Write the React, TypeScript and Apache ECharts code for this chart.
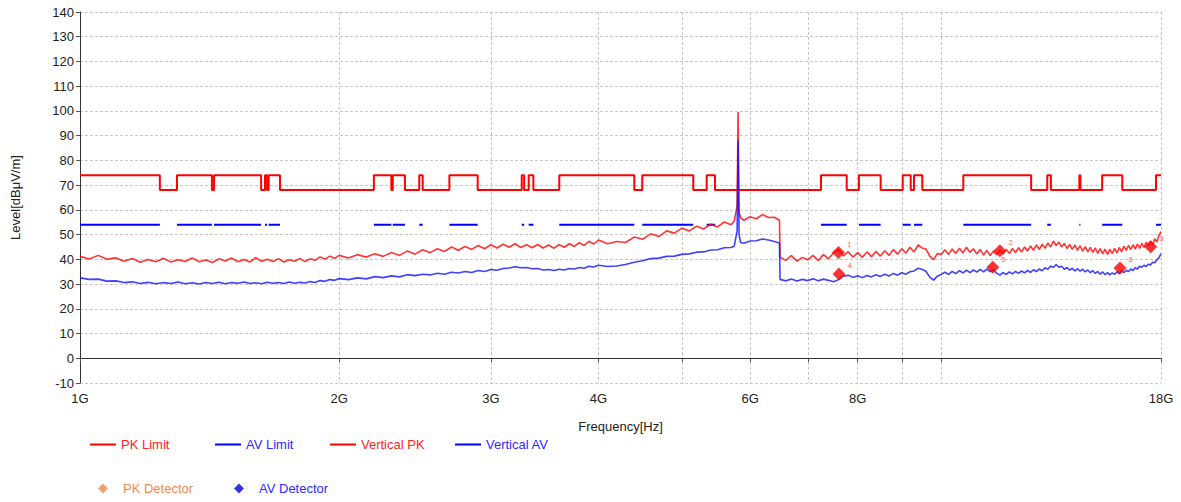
import React, { useEffect, useRef } from "react";
import * as echarts from "echarts";

// ---- scan frequencies (GHz) ----
const freqGHz = [
  1, 1.025, 1.05, 1.075, 1.1, 1.125, 1.15, 1.175, 1.2, 1.225,
  1.25, 1.275, 1.3, 1.325, 1.35, 1.375, 1.4, 1.425, 1.45, 1.475,
  1.5, 1.525, 1.55, 1.575, 1.6, 1.625, 1.65, 1.675, 1.7, 1.725,
  1.75, 1.775, 1.8, 1.825, 1.85, 1.875, 1.9, 1.925, 1.95, 1.975,
  2, 2.05, 2.1, 2.15, 2.2, 2.25, 2.3, 2.35, 2.4, 2.45,
  2.5, 2.55, 2.6, 2.65, 2.7, 2.75, 2.8, 2.85, 2.9, 2.95,
  3, 3.05, 3.1, 3.15, 3.2, 3.25, 3.3, 3.35, 3.4, 3.45,
  3.5, 3.55, 3.6, 3.65, 3.7, 3.75, 3.8, 3.85, 3.9, 3.95,
  4, 4.1, 4.2, 4.3, 4.4, 4.5, 4.6, 4.7, 4.8, 4.9,
  5, 5.1, 5.2, 5.3, 5.4, 5.5, 5.6, 5.7, 5.75, 5.795,
  5.81, 5.825, 5.85, 5.9, 6, 6.1, 6.2, 6.3, 6.4, 6.49,
  6.5, 6.6, 6.7, 6.8, 6.9, 7, 7.1, 7.2, 7.3, 7.4,
  7.5, 7.6, 7.7, 7.8, 7.9, 8, 8.1, 8.2, 8.3, 8.4,
  8.5, 8.6, 8.7, 8.8, 8.9, 9, 9.1, 9.2, 9.3, 9.4,
  9.5, 9.6, 9.7, 9.8, 9.9, 10, 10.1, 10.2, 10.3, 10.4,
  10.5, 10.6, 10.7, 10.8, 10.9, 11, 11.1, 11.2, 11.3, 11.4,
  11.5, 11.6, 11.7, 11.8, 11.9, 12, 12.1, 12.2, 12.3, 12.4,
  12.5, 12.6, 12.7, 12.8, 12.9, 13, 13.1, 13.2, 13.3, 13.4,
  13.5, 13.6, 13.7, 13.8, 13.9, 14, 14.1, 14.2, 14.3, 14.4,
  14.5, 14.6, 14.7, 14.8, 14.9, 15, 15.1, 15.2, 15.3, 15.4,
  15.5, 15.6, 15.7, 15.8, 15.9, 16, 16.1, 16.2, 16.3, 16.4,
  16.5, 16.6, 16.7, 16.8, 16.9, 17, 17.1, 17.2, 17.3, 17.4,
  17.5, 17.6, 17.7, 17.8, 17.9, 18,
];

// ---- Vertical PK trace (dBµV/m) ----
const verticalPK = [
  41.2, 40.1, 41.6, 40.0, 40.6, 39.2, 40.3, 38.8, 39.9, 39.0,
  40.4, 38.9, 39.8, 39.1, 40.6, 39.0, 39.7, 38.7, 40.2, 39.3,
  40.5, 39.0, 39.9, 38.9, 40.7, 39.2, 40.0, 39.1, 40.3, 38.9,
  39.8, 39.2, 40.4, 39.1, 40.2, 39.6, 41.0, 40.1, 41.3, 40.4,
  41.6, 40.5, 41.9, 40.9, 42.3, 41.2, 42.8, 41.6, 43.4, 42.1,
  43.9, 42.7, 44.3, 43.2, 45.0, 43.7, 45.2, 44.0, 45.6, 44.3,
  45.9, 44.6, 46.1, 44.9, 46.3, 44.8, 45.9, 44.7, 46.0, 44.6,
  45.8, 44.5, 45.9, 44.9, 46.3, 45.2, 46.7, 45.6, 47.3, 46.2,
  47.8, 46.3, 47.2, 46.8, 49.0, 48.1, 50.3, 49.2, 51.5, 50.6,
  52.6, 51.5, 53.4, 52.3, 54.2, 53.1, 55.1, 54.0, 55.4, 61.5,
  99.6, 59.0, 56.8, 55.8, 57.2, 56.4, 58.1, 56.9, 57.0, 55.8,
  40.9, 39.6, 41.5, 39.3, 40.8, 39.8, 41.6, 39.5, 41.9, 40.2,
  42.6, 43.9, 41.4, 43.1, 40.9, 42.7, 40.8, 43.0, 41.1, 43.2,
  41.3, 43.5, 41.6, 44.0, 42.1, 44.3, 42.5, 44.9, 43.0, 45.8,
  44.6, 44.2, 41.3, 39.9, 42.4, 41.9, 43.9, 42.0, 44.2, 42.4,
  44.5, 42.6, 44.9, 42.8, 44.3, 42.2, 44.0, 41.7, 43.6, 41.5,
  43.4, 41.9, 43.8, 42.1, 44.1, 42.3, 44.4, 42.7, 44.7, 43.0,
  45.0, 43.4, 45.4, 43.6, 45.8, 44.0, 46.1, 44.5, 46.6, 45.0,
  47.4, 45.6, 47.0, 45.0, 46.4, 44.4, 46.0, 44.0, 45.8, 43.6,
  45.5, 43.3, 45.1, 43.0, 44.8, 42.8, 44.6, 42.4, 44.3, 42.2,
  44.1, 42.0, 44.0, 42.3, 44.4, 42.6, 44.8, 43.0, 45.3, 43.6,
  45.6, 43.9, 45.9, 44.2, 46.2, 44.4, 46.5, 44.8, 46.9, 45.3,
  47.2, 45.9, 48.3, 47.0, 49.6, 51.2,
];

// ---- Vertical AV trace (dBµV/m) ----
const verticalAV = [
  32.5, 31.9, 32.0, 31.2, 31.3, 30.6, 30.9, 30.2, 30.7, 30.1,
  30.6, 30.2, 30.8, 30.1, 30.5, 30.0, 30.6, 30.2, 30.7, 30.1,
  30.6, 30.3, 30.8, 30.2, 30.5, 30.1, 30.7, 30.3, 30.6, 30.2,
  30.8, 30.3, 30.7, 30.4, 31.0, 30.6, 31.4, 31.1, 31.8, 31.5,
  32.2, 31.8, 32.5, 32.1, 33.0, 32.6, 33.3, 32.9, 33.8, 33.4,
  34.0, 33.7, 34.4, 34.0, 34.8, 34.5, 35.1, 34.7, 35.5, 35.1,
  35.9, 35.6, 36.3, 36.5, 37.0, 36.6, 36.7, 36.2, 36.3, 35.7,
  35.9, 35.5, 36.0, 35.7, 36.3, 36.1, 36.7, 36.4, 37.2, 36.9,
  37.6, 37.1, 37.3, 37.9, 38.8, 39.4, 40.3, 40.5, 41.2, 41.3,
  42.0, 42.2, 42.9, 43.0, 43.8, 43.9, 44.7, 44.8, 45.3, 51.5,
  88.0, 50.0, 46.8, 46.5, 47.4, 47.5, 48.2, 47.8, 47.2, 46.6,
  31.9, 31.3, 32.0, 31.2, 31.9, 31.4, 32.1, 31.3, 32.0, 31.5,
  30.9, 31.8, 33.2, 33.6, 32.7, 33.4, 32.6, 33.5, 32.9, 33.8,
  33.1, 34.0, 33.3, 34.3, 33.6, 34.6, 34.0, 35.0, 35.3, 36.4,
  36.0, 35.2, 32.8, 31.6, 33.2, 33.9, 34.8, 33.9, 35.1, 34.2,
  35.4, 34.5, 35.6, 34.6, 35.7, 34.8, 35.9, 34.9, 36.0, 35.0,
  35.8, 34.4, 33.6, 34.6, 33.9, 34.9, 34.1, 35.1, 34.3, 35.3,
  34.5, 35.5, 34.7, 35.8, 35.0, 36.1, 35.4, 36.6, 36.0, 37.3,
  36.7, 37.9, 36.8, 37.2, 36.0, 36.7, 35.6, 36.4, 35.3, 36.2,
  35.2, 36.0, 34.9, 35.7, 34.6, 35.4, 34.3, 35.1, 34.0, 34.9,
  33.8, 34.6, 33.7, 34.5, 33.9, 35.0, 34.2, 35.4, 34.6, 35.6,
  35.0, 36.1, 35.5, 36.6, 36.1, 37.2, 36.8, 37.6, 37.1, 38.0,
  37.7, 38.8, 38.6, 39.8, 40.6, 42.3,
];

// ---- limit band edges (GHz) and levels per band ----
const limitEdgesGHz = [
  1.0, 1.238, 1.296, 1.423, 1.431, 1.623, 1.64, 1.649, 1.656, 1.707,
  2.194, 2.299, 2.308, 2.384, 2.477, 2.5, 2.685, 2.896, 3.258, 3.279,
  3.319, 3.361, 3.602, 4.402, 4.497, 5.154, 5.342, 5.462, 7.252, 7.768,
  8.026, 8.506, 9.023, 9.218, 9.299, 9.508, 10.61, 12.72, 13.28, 13.41,
  14.47, 14.51, 15.38, 16.23, 17.76, 18.0,
];
const pkLimitLevels = [
  74, 68, 74, 68, 74, 68, 74, 68, 74, 68,
  74, 68, 74, 68, 74, 68, 74, 68, 74, 68,
  74, 68, 74, 68, 74, 68, 74, 68, 74, 68,
  74, 68, 74, 68, 74, 68, 74, 68, 74, 68,
  74, 68, 74, 68, 74,
];
const avLimitLevels = [
  54, null, 54, null, 54, null, 54, null, 54, null,
  54, null, 54, null, 54, null, 54, null, 54, null,
  54, null, 54, null, 54, null, 54, null, 54, null,
  54, null, 54, null, 54, null, 54, null, 54, null,
  54, null, 54, null, 54,
];

// ---- detector points ----
const pkDetectorFreqGHz = [7.598, 11.7, 17.51];
const pkDetectorLevel = [42.8, 43.5, 45.1];
const pkDetectorTag = ["1", "2", "3"];
const avDetectorFreqGHz = [7.609, 11.48, 16.13];
const avDetectorLevel = [34.1, 36.8, 36.5];
const avDetectorTag = ["4", "5", "6"];

// ---- axis ticks ----
const xTickGHz = [1, 2, 3, 4, 5, 6, 7, 8, 9, 10, 18];
const xLabelGHz = [1, 2, 3, 4, 6, 8, 18];

const lg = (f: number) => Math.log10(f);

const FONT = "Liberation Sans, Arial, sans-serif";
const RED = "#ff0000";
const BLUE = "#0000ff";

function buildOption() {
  const pkLimitData: any[] = [];
  pkLimitLevels.forEach((lv, i) => {
    pkLimitData.push([lg(limitEdgesGHz[i]), lv], [lg(limitEdgesGHz[i + 1]), lv]);
  });
  const avLimitData: any[] = [];
  avLimitLevels.forEach((lv, i) => {
    if (lv == null) {
      avLimitData.push([lg((limitEdgesGHz[i] + limitEdgesGHz[i + 1]) / 2), "-"]);
    } else {
      avLimitData.push([lg(limitEdgesGHz[i]), lv], [lg(limitEdgesGHz[i + 1]), lv]);
    }
  });
  const pkData = freqGHz.map((f, i) => [lg(f), verticalPK[i]]);
  const avData = freqGHz.map((f, i) => [lg(f), verticalAV[i]]);
  const pkDet = pkDetectorFreqGHz.map((f, i) => [lg(f), pkDetectorLevel[i], pkDetectorTag[i]]);
  const avDet = avDetectorFreqGHz.map((f, i) => [lg(f), avDetectorLevel[i], avDetectorTag[i]]);

  const lineLegend = (name: string, left: number, color: string) => ({
    data: [{ name, textStyle: { color } }],
    left,
    top: 438,
    padding: 0,
    orient: "horizontal",
    icon: "rect",
    itemWidth: 26,
    itemHeight: 2,
    selectedMode: false,
    textStyle: { fontFamily: FONT, fontSize: 13 },
  });
  const detLegend = (name: string, left: number, iconColor: string, textColor: string) => ({
    data: [{ name, itemStyle: { color: iconColor }, textStyle: { color: textColor } }],
    left,
    top: 482,
    padding: 0,
    icon: "diamond",
    itemWidth: 10,
    itemHeight: 10,
    selectedMode: false,
    textStyle: { fontFamily: FONT, fontSize: 13, padding: [0, 0, 0, 10] },
  });

  const detLabel = {
    show: true,
    formatter: (p: any) => p.value[2],
    position: "right",
    offset: [-3, -8],
    fontSize: 8,
    color: "#ff4040",
    fontFamily: FONT,
  };

  return {
    animation: false,
    textStyle: { fontFamily: FONT },
    grid: { left: 80, right: 20, top: 12, bottom: 119, containLabel: false },
    legend: [
      lineLegend("PK Limit", 90, "#ff2222"),
      lineLegend("AV Limit", 215, "#2b2bff"),
      lineLegend("Vertical PK", 330, "#ff2222"),
      lineLegend("Vertical AV", 455, "#2b2bff"),
      detLegend("PK Detector", 98, "#f4874b", "#f4874b"),
      detLegend("AV Detector", 234, "#0000dd", "#2b2bff"),
    ],
    xAxis: {
      type: "value",
      min: 0,
      max: lg(18),
      name: "Frequency[Hz]",
      nameLocation: "middle",
      nameGap: 37,
      nameTextStyle: { fontFamily: FONT, fontSize: 13, color: "#222" },
      axisLine: { show: true, lineStyle: { color: "#333", width: 1 } },
      axisTick: {
        show: true,
        customValues: xTickGHz.map(lg),
        length: 4,
        lineStyle: { color: "#555" },
      },
      axisLabel: {
        customValues: xLabelGHz.map(lg),
        formatter: (v: number) => Math.round(Math.pow(10, v)) + "G",
        fontFamily: FONT,
        fontSize: 13,
        color: "#222",
        margin: 9,
      },
      splitLine: { show: true, lineStyle: { color: "#c8c8c8", type: [3, 2], width: 1 } },
    },
    yAxis: {
      type: "value",
      min: -10,
      max: 140,
      interval: 10,
      name: "Level[dBμV/m]",
      nameLocation: "middle",
      nameGap: 58,
      nameTextStyle: { fontFamily: FONT, fontSize: 13, color: "#222" },
      axisLine: { show: true, lineStyle: { color: "#333", width: 1 } },
      axisTick: { show: true, length: 4, lineStyle: { color: "#555" } },
      axisLabel: { fontFamily: FONT, fontSize: 13, color: "#222", margin: 6 },
      splitLine: { show: true, lineStyle: { color: "#c8c8c8", type: [3, 2], width: 1 } },
    },
    series: [
      {
        name: "PK Limit",
        type: "line",
        data: pkLimitData,
        showSymbol: false,
        lineStyle: { color: RED, width: 2 },
        itemStyle: { color: RED },
        z: 3,
      },
      {
        name: "AV Limit",
        type: "line",
        data: avLimitData,
        connectNulls: false,
        showSymbol: false,
        lineStyle: { color: BLUE, width: 2 },
        itemStyle: { color: BLUE },
        z: 3,
      },
      {
        name: "Vertical PK",
        type: "line",
        data: pkData,
        showSymbol: false,
        lineStyle: { color: "#ff1010", width: 1.6, opacity: 0.85 },
        itemStyle: { color: RED },
        z: 4,
      },
      {
        name: "Vertical AV",
        type: "line",
        data: avData,
        showSymbol: false,
        lineStyle: { color: "#1010ff", width: 1.6, opacity: 0.8 },
        itemStyle: { color: BLUE },
        z: 5,
      },
      {
        name: "PK Detector",
        type: "scatter",
        data: pkDet,
        symbol: "diamond",
        symbolSize: 13,
        itemStyle: { color: RED },
        label: detLabel,
        z: 6,
      },
      {
        name: "AV Detector",
        type: "scatter",
        data: avDet,
        symbol: "diamond",
        symbolSize: 13,
        itemStyle: { color: RED },
        label: detLabel,
        z: 6,
      },
    ],
  };
}

export default function App() {
  const ref = useRef<HTMLDivElement>(null);
  useEffect(() => {
    document.body.style.margin = "0";
    const chart = echarts.init(ref.current!, null, { renderer: "svg" });
    chart.setOption(buildOption() as any);
    return () => chart.dispose();
  }, []);
  return <div ref={ref} style={{ width: 1181, height: 502 }} />;
}
